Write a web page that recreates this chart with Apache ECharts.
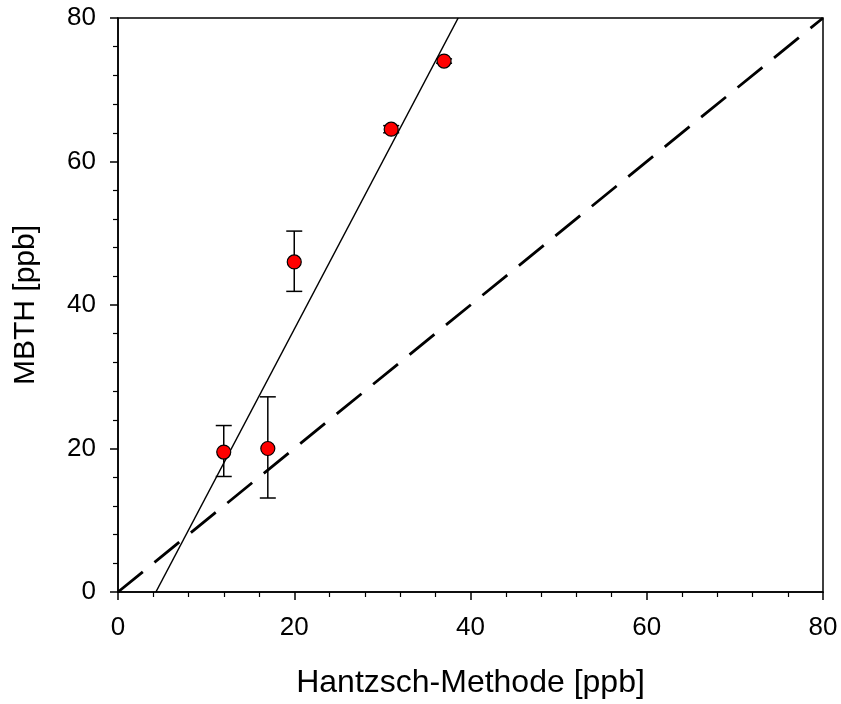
<!DOCTYPE html>
<html>
<head>
<meta charset="utf-8">
<script src="https://cdn.jsdelivr.net/npm/echarts@6/dist/echarts.min.js"></script>
<style>html,body{margin:0;padding:0;background:#fff}#c{width:841px;height:704px}</style>
</head>
<body>
<div id="c"></div>
<script>
// Data
var hantzsch = [12, 17, 20, 31, 37];
var mbth = [19.5, 20, 46, 64.5, 74];
var errLow = [16.1, 13.1, 41.9, 64.0, 73.7];
var errHigh = [23.2, 27.2, 50.3, 65.0, 74.3];
var fitLine = [[4.3, 0], [38.6, 80]];
var identityLine = [[0, 0], [80, 80]];
var xTicks = [0, 20, 40, 60, 80];
var yTicks = [0, 20, 40, 60, 80];

var points = hantzsch.map(function (x, i) { return [x, mbth[i]]; });
var errData = hantzsch.map(function (x, i) { return [x, errLow[i], errHigh[i]]; });

var font = 'Liberation Sans, Arial, sans-serif';
var chart = echarts.init(document.getElementById('c'));
chart.setOption({
  animation: false,
  backgroundColor: '#fff',
  grid: { left: 118, right: 18, top: 18, bottom: 111, show: true, borderColor: '#000', borderWidth: 1.5, backgroundColor: 'transparent' },
  xAxis: {
    type: 'value', min: xTicks[0], max: xTicks[xTicks.length - 1], interval: 20,
    name: 'Hantzsch-Methode [ppb]', nameLocation: 'middle', nameGap: 75,
    nameTextStyle: { fontSize: 32, fontFamily: font, color: '#000' },
    axisLine: { show: true, lineStyle: { color: '#000', width: 1.5 } },
    axisTick: { show: true, inside: false, length: 8, lineStyle: { color: '#000', width: 1.5 } },
    minorTick: { show: true, splitNumber: 5, length: 5, lineStyle: { color: '#000', width: 1.2 } },
    axisLabel: { fontSize: 26, fontFamily: font, color: '#000', margin: 23 },
    splitLine: { show: false }
  },
  yAxis: {
    type: 'value', min: yTicks[0], max: yTicks[yTicks.length - 1], interval: 20,
    name: 'MBTH [ppb]', nameLocation: 'middle', nameGap: 77,
    nameTextStyle: { fontSize: 30, fontFamily: font, color: '#000' },
    axisLine: { show: true, lineStyle: { color: '#000', width: 1.5 } },
    axisTick: { show: true, inside: false, length: 8, lineStyle: { color: '#000', width: 1.5 } },
    minorTick: { show: true, splitNumber: 5, length: 5, lineStyle: { color: '#000', width: 1.2 } },
    axisLabel: { fontSize: 26, fontFamily: font, color: '#000', margin: 22 },
    splitLine: { show: false }
  },
  series: [
    {
      type: 'line', data: identityLine, symbol: 'none', silent: true,
      lineStyle: { color: '#000', width: 2.8, type: [32, 15] }, z: 2
    },
    {
      type: 'line', data: fitLine, symbol: 'none', silent: true,
      lineStyle: { color: '#000', width: 1.5 }, z: 2
    },
    {
      type: 'custom', z: 3,
      data: errData,
      renderItem: function (params, api) {
        var x = api.value(0);
        var lo = api.coord([x, api.value(1)]);
        var hi = api.coord([x, api.value(2)]);
        var hw = 8;
        var st = { stroke: '#000', lineWidth: 1.5 };
        return {
          type: 'group',
          children: [
            { type: 'line', shape: { x1: lo[0], y1: lo[1], x2: hi[0], y2: hi[1] }, style: st },
            { type: 'line', shape: { x1: lo[0] - hw, y1: lo[1], x2: lo[0] + hw, y2: lo[1] }, style: st },
            { type: 'line', shape: { x1: hi[0] - hw, y1: hi[1], x2: hi[0] + hw, y2: hi[1] }, style: st }
          ]
        };
      }
    },
    {
      type: 'scatter', data: points, symbol: 'circle', symbolSize: 14, z: 4,
      itemStyle: { color: '#ff0000', borderColor: '#000', borderWidth: 1.2, opacity: 1 }
    }
  ]
});
</script>
</body>
</html>
